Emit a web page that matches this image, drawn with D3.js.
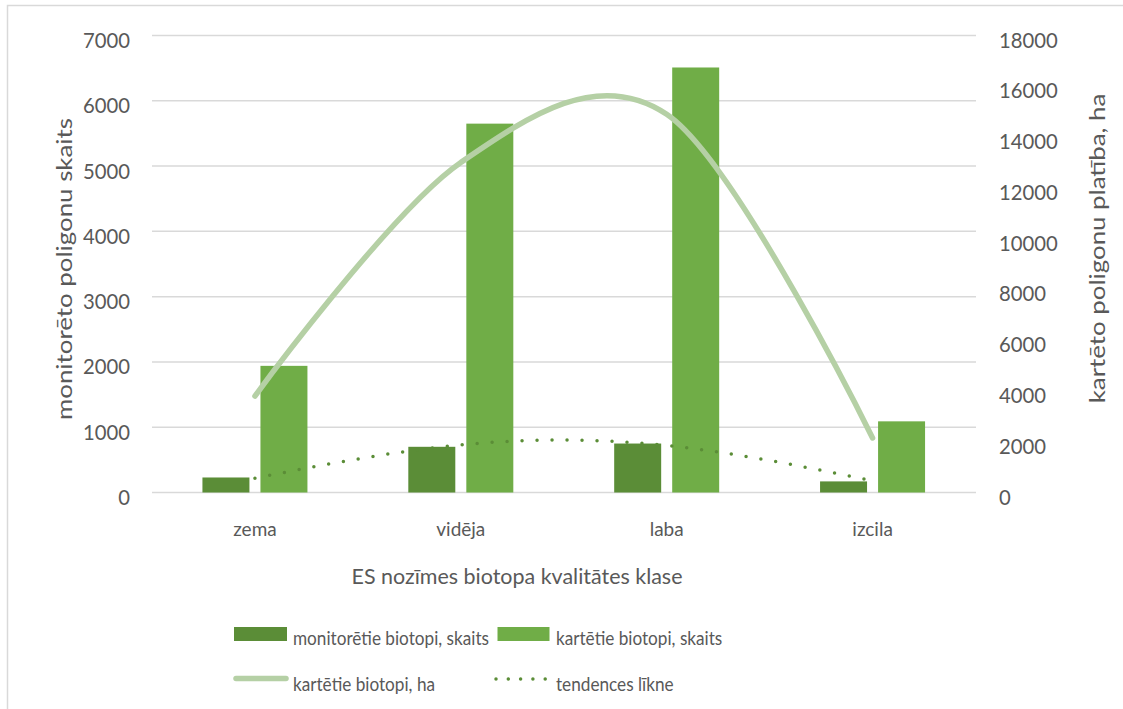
<!DOCTYPE html>
<html>
<head>
<meta charset="utf-8">
<script src="https://cdn.jsdelivr.net/npm/d3@7"></script>
<style>
  html, body { margin: 0; padding: 0; background: #fff; }
  svg { display: block; }
  text { font-family: Lato, "Open Sans", sans-serif; fill: #595959; }
</style>
</head>
<body>
<svg id="chart" width="1123" height="709"></svg>
<script>
// ---- data ----
const categories = ["zema", "vidēja", "laba", "izcila"];
const monitoredCount = [230, 700, 750, 170];     // monitorētie biotopi, skaits (left axis)
const mappedCount = [1940, 5650, 6510, 1090];     // kartētie biotopi, skaits (left axis)
const mappedArea = [3800, 13000, 14900, 2150];    // kartētie biotopi, ha (right axis)
const trendValues = [220, 730, 720, 180];         // tendences līkne (left axis)
const leftTicks = [0, 1000, 2000, 3000, 4000, 5000, 6000, 7000];
const rightTicks = [0, 2000, 4000, 6000, 8000, 10000, 12000, 14000, 16000, 18000];
const seriesNames = ["monitorētie biotopi, skaits", "kartētie biotopi, skaits", "kartētie biotopi, ha", "tendences līkne"];
const xTitle = "ES nozīmes biotopa kvalitātes klase";
const yLeftTitle = "monitorēto poligonu skaits";
const yRightTitle = "kartēto poligonu platība, ha";

// ---- styles ----
const C_DARK = "#5b8d37", C_LIGHT = "#70ad47", C_LINE = "#b5d0a5", C_GRID = "#d9d9d9";
const FS_TICK = 21.5, FS_CAT = 19.5, FS_TITLE = 22, FS_LEG = 18.5;

const svg = d3.select("#chart");

// horizontal condense factor so that a reference string at a given size reaches target width
function factor(txt, size, target) {
  const t = svg.append("text").attr("font-size", size).text(txt);
  const w = t.node().getComputedTextLength();
  t.remove();
  return target / w;
}
function condense(sel, k) {
  sel.each(function () {
    const w = this.getComputedTextLength();
    d3.select(this).attr("textLength", w * k).attr("lengthAdjust", "spacingAndGlyphs");
  });
}
const kTick = factor("7000", FS_TICK, 47);
const kCat = factor("vidēja", FS_CAT, 49);
const kXT = factor(xTitle, FS_TITLE, 331);
const kYT = factor(yLeftTitle, FS_TITLE, 302);
const kLeg = factor(seriesNames[0], FS_LEG, 196);

// chart border (cropped at right/bottom)
svg.append("path")
  .attr("d", "M7.5,1200 L7.5,5.5 L1200,5.5")
  .attr("fill", "none").attr("stroke", C_GRID).attr("stroke-width", 1.5);

const plot = { left: 152, right: 975.5, top: 35.5, bottom: 492.5 };

const x = d3.scaleBand().domain(categories).range([plot.left, plot.right]).padding(0);
const yL = d3.scaleLinear().domain([0, 7000]).range([plot.bottom, plot.top]);
const yR = d3.scaleLinear().domain([0, 18000]).range([plot.bottom, plot.top]);
const xs = d3.scaleBand().domain(["m", "k"]).range([-52.5, 52.5]).paddingInner(0.19).paddingOuter(0);

// gridlines
svg.append("g").selectAll("line").data(leftTicks).join("line")
  .attr("x1", plot.left).attr("x2", plot.right + 0.5)
  .attr("y1", d => yL(d)).attr("y2", d => yL(d))
  .attr("stroke", C_GRID).attr("stroke-width", 1.5);

// left axis
const gL = svg.append("g").attr("transform", `translate(${plot.left},0)`)
  .call(d3.axisLeft(yL).tickValues(leftTicks).tickSize(0).tickPadding(22).tickFormat(d3.format("d")));
gL.select(".domain").remove();
gL.selectAll("text").attr("font-size", FS_TICK).attr("dy", "0.35em").attr("y", 4.5)
  .style("font-family", "Lato").attr("fill", "#595959").call(condense, kTick);

// right axis
const gR = svg.append("g").attr("transform", `translate(${plot.right},0)`)
  .call(d3.axisRight(yR).tickValues(rightTicks).tickSize(0).tickPadding(23.5).tickFormat(d3.format("d")));
gR.select(".domain").remove();
gR.selectAll("text").attr("font-size", FS_TICK).attr("dy", "0.35em").attr("y", 4)
  .style("font-family", "Lato").attr("fill", "#595959").call(condense, kTick);

// bottom axis (labels only)
const gB = svg.append("g").attr("transform", `translate(0,${plot.bottom})`)
  .call(d3.axisBottom(x).tickSize(0).tickPadding(0));
gB.select(".domain").remove();
gB.selectAll("text").attr("font-size", FS_CAT).attr("dy", 0).attr("y", 43.5)
  .style("font-family", "Lato").attr("fill", "#595959").call(condense, kCat);

// bars
const barData = categories.map((c, i) => ({ c, m: monitoredCount[i], k: mappedCount[i] }));
const groups = svg.append("g").selectAll("g").data(barData).join("g")
  .attr("transform", d => `translate(${x(d.c) + x.bandwidth() / 2},0)`);
groups.append("rect")
  .attr("x", xs("m")).attr("width", xs.bandwidth())
  .attr("y", d => yL(d.m)).attr("height", d => yL(0) - yL(d.m))
  .attr("fill", C_DARK);
groups.append("rect")
  .attr("x", xs("k")).attr("width", xs.bandwidth())
  .attr("y", d => yL(d.k)).attr("height", d => yL(0) - yL(d.k))
  .attr("fill", C_LIGHT);

// area line (right axis)
const cx = c => x(c) + x.bandwidth() / 2;
svg.append("path")
  .datum(categories.map((c, i) => [cx(c), yR(mappedArea[i])]))
  .attr("d", d3.line().curve(d3.curveCardinal.tension(0)))
  .attr("fill", "none").attr("stroke", C_LINE).attr("stroke-width", 5.5)
  .attr("stroke-linecap", "round").attr("stroke-linejoin", "round");

// trend line (dotted)
svg.append("path")
  .datum(categories.map((c, i) => [cx(c), yL(trendValues[i])]))
  .attr("d", d3.line().curve(d3.curveNatural))
  .attr("fill", "none").attr("stroke", C_DARK).attr("stroke-width", 3.5)
  .attr("stroke-linecap", "round").attr("stroke-dasharray", "0 15");

// axis titles
svg.append("text").attr("x", 517).attr("y", 584).attr("text-anchor", "middle")
  .attr("font-size", FS_TITLE).text(xTitle).call(condense, kXT);
svg.append("text").attr("transform", "translate(72,269) rotate(-90)").attr("text-anchor", "middle")
  .attr("font-size", FS_TITLE).text(yLeftTitle).call(condense, kYT);
svg.append("text").attr("transform", "translate(1105,248.5) rotate(-90)").attr("text-anchor", "middle")
  .attr("font-size", FS_TITLE).text(yRightTitle).call(condense, kYT);

// legend
const lg = svg.append("g");
lg.append("rect").attr("x", 234).attr("y", 627).attr("width", 53).attr("height", 14).attr("fill", C_DARK);
lg.append("text").attr("x", 293).attr("y", 645).attr("font-size", FS_LEG).text(seriesNames[0]).call(condense, kLeg);
lg.append("rect").attr("x", 497.5).attr("y", 627).attr("width", 52).attr("height", 14).attr("fill", C_LIGHT);
lg.append("text").attr("x", 556).attr("y", 645).attr("font-size", FS_LEG).text(seriesNames[1]).call(condense, kLeg);
lg.append("line").attr("x1", 236).attr("x2", 286).attr("y1", 678.5).attr("y2", 678.5)
  .attr("stroke", C_LINE).attr("stroke-width", 5.5).attr("stroke-linecap", "round");
lg.append("text").attr("x", 293).attr("y", 691).attr("font-size", FS_LEG).text(seriesNames[2]).call(condense, kLeg);
lg.append("line").attr("x1", 496).attr("x2", 546).attr("y1", 679).attr("y2", 679)
  .attr("stroke", C_DARK).attr("stroke-width", 3.5).attr("stroke-linecap", "round")
  .attr("stroke-dasharray", "0 12.3");
lg.append("text").attr("x", 556).attr("y", 691).attr("font-size", FS_LEG).text(seriesNames[3]).call(condense, kLeg);
</script>
</body>
</html>
